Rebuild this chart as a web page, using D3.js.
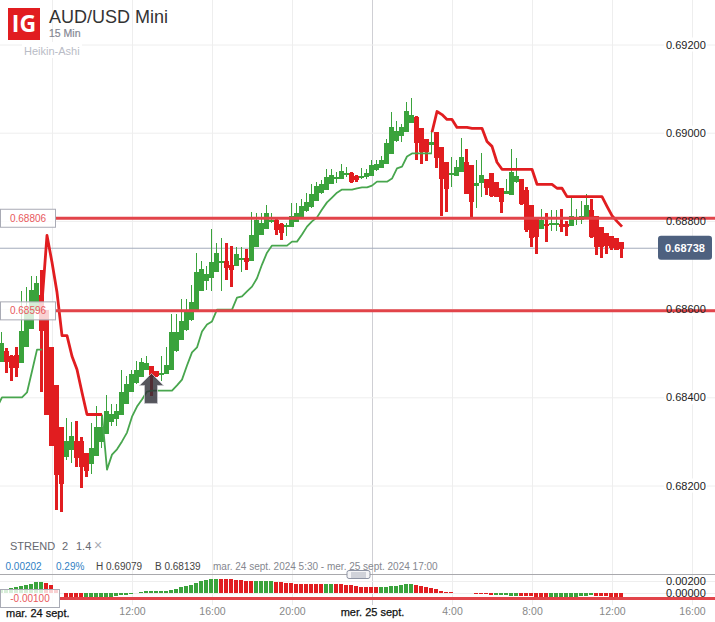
<!DOCTYPE html>
<html>
<head>
<meta charset="utf-8">
<script src="https://cdnjs.cloudflare.com/ajax/libs/d3/7.8.5/d3.min.js"></script>
<style type="text/css">
	html, body { margin: 0; padding: 0; background: #fff; }
	svg { display: block; font-family: "Liberation Sans", Arial, sans-serif; }
</style>
</head>
<body>
<svg id="chart" width="715" height="622"></svg>
<script type="text/javascript">
	// 15 min Heikin-Ashi bars, first bar is mar. 24 sept 5:30
	var firstBar = new Date(2024, 8, 24, 5, 30);

	var haOpen = [
		0.68481,0.68504,0.68493,0.68497,0.68479,0.68513,0.68556,0.68597,0.68631,0.68597,
		0.68515,0.68429,0.68332,0.68266,0.68282,0.68302,0.68300,0.68273,0.68248,0.68266,
		0.68298,0.68316,0.68343,0.68350,0.68359,0.68386,0.68411,0.68431,0.68445,0.68461,
		0.68470,0.68459,0.68452,0.68454,0.68463,0.68506,0.68531,0.68551,0.68574,0.68597,
		0.68640,0.68663,0.68670,0.68685,0.68706,0.68708,0.68701,0.68699,0.68710,0.68715,
		0.68710,0.68740,0.68769,0.68783,0.68799,0.68803,0.68794,0.68785,0.68787,0.68799,
		0.68808,0.68821,0.68830,0.68846,0.68862,0.68869,0.68885,0.68894,0.68896,0.68903,
		0.68908,0.68901,0.68896,0.68899,0.68901,0.68914,0.68921,0.68928,0.68951,0.68980,
		0.68992,0.69003,0.69023,0.69035,0.69010,0.68985,0.68971,0.69001,0.68967,0.68933,
		0.68903,0.68903,0.68910,0.68933,0.68926,0.68880,0.68885,0.68894,0.68908,0.68889,
		0.68874,0.68860,0.68860,0.68887,0.68894,0.68871,0.68837,0.68808,0.68781,0.68792,
		0.68792,0.68792,0.68794,0.68792,0.68790,0.68801,0.68803,0.68808,0.68824,0.68812,
		0.68787,0.68772,0.68765,0.68762,0.68753
	];
	var haClose = [
		0.68524,0.68479,0.68465,0.68468,0.68551,0.68595,0.68644,0.68660,0.68549,0.68359,
		0.68291,0.68225,0.68202,0.68302,0.68313,0.68264,0.68241,0.68232,0.68284,0.68332,
		0.68332,0.68368,0.68361,0.68368,0.68411,0.68431,0.68452,0.68461,0.68479,0.68477,
		0.68445,0.68447,0.68456,0.68474,0.68549,0.68549,0.68574,0.68595,0.68615,0.68683,
		0.68690,0.68679,0.68706,0.68728,0.68710,0.68692,0.68690,0.68726,0.68715,0.68706,
		0.68769,0.68801,0.68796,0.68819,0.68803,0.68781,0.68774,0.68790,0.68812,0.68819,
		0.68833,0.68842,0.68860,0.68880,0.68883,0.68899,0.68905,0.68899,0.68914,0.68908,
		0.68887,0.68892,0.68901,0.68908,0.68926,0.68928,0.68939,0.68976,0.69012,0.69003,
		0.69012,0.69050,0.69041,0.68976,0.68955,0.68955,0.68978,0.68942,0.68894,0.68871,
		0.68908,0.68923,0.68944,0.68860,0.68842,0.68887,0.68903,0.68874,0.68855,0.68855,
		0.68842,0.68867,0.68912,0.68901,0.68837,0.68781,0.68762,0.68762,0.68801,0.68787,
		0.68796,0.68796,0.68787,0.68785,0.68812,0.68806,0.68812,0.68835,0.68762,0.68742,
		0.68742,0.68742,0.68737,0.68735,0.68738
	];
	var haHigh = [
		0.68547,0.68511,0.68497,0.68515,0.68640,0.68649,0.68676,0.68674,0.68688,0.68597,
		0.68515,0.68429,0.68332,0.68352,0.68345,0.68347,0.68311,0.68273,0.68341,0.68381,
		0.68361,0.68406,0.68384,0.68384,0.68461,0.68449,0.68461,0.68483,0.68490,0.68493,
		0.68470,0.68459,0.68493,0.68513,0.68588,0.68588,0.68624,0.68622,0.68654,0.68728,
		0.68710,0.68697,0.68781,0.68751,0.68762,0.68751,0.68744,0.68740,0.68740,0.68737,
		0.68821,0.68817,0.68817,0.68837,0.68819,0.68806,0.68796,0.68796,0.68840,0.68840,
		0.68849,0.68864,0.68883,0.68889,0.68892,0.68917,0.68917,0.68910,0.68928,0.68923,
		0.68910,0.68903,0.68919,0.68917,0.68939,0.68939,0.68948,0.68985,0.69048,0.69026,
		0.69019,0.69069,0.69079,0.69037,0.69010,0.68985,0.69003,0.69001,0.68967,0.68933,
		0.68946,0.68939,0.68987,0.68964,0.68926,0.68939,0.68953,0.68896,0.68908,0.68889,
		0.68874,0.68894,0.68962,0.68942,0.68896,0.68876,0.68837,0.68808,0.68826,0.68817,
		0.68824,0.68824,0.68826,0.68799,0.68855,0.68826,0.68844,0.68860,0.68849,0.68812,
		0.68787,0.68772,0.68765,0.68762,0.68753
	];
	var haLow = [
		0.68481,0.68456,0.68438,0.68445,0.68479,0.68513,0.68556,0.68597,0.68411,0.68359,
		0.68291,0.68145,0.68139,0.68257,0.68252,0.68243,0.68195,0.68220,0.68225,0.68266,
		0.68286,0.68316,0.68334,0.68334,0.68359,0.68386,0.68411,0.68431,0.68445,0.68461,
		0.68402,0.68447,0.68436,0.68454,0.68463,0.68502,0.68531,0.68551,0.68574,0.68597,
		0.68640,0.68644,0.68640,0.68685,0.68640,0.68667,0.68651,0.68699,0.68685,0.68688,
		0.68710,0.68740,0.68769,0.68783,0.68796,0.68769,0.68756,0.68765,0.68787,0.68799,
		0.68808,0.68821,0.68830,0.68846,0.68860,0.68869,0.68885,0.68887,0.68894,0.68899,
		0.68885,0.68889,0.68894,0.68896,0.68901,0.68914,0.68921,0.68928,0.68951,0.68980,
		0.68978,0.69003,0.69023,0.68939,0.68930,0.68935,0.68951,0.68921,0.68812,0.68821,
		0.68878,0.68901,0.68910,0.68860,0.68808,0.68830,0.68855,0.68858,0.68855,0.68855,
		0.68817,0.68860,0.68860,0.68885,0.68837,0.68774,0.68740,0.68726,0.68781,0.68753,
		0.68776,0.68776,0.68774,0.68765,0.68790,0.68790,0.68792,0.68808,0.68762,0.68722,
		0.68717,0.68724,0.68735,0.68735,0.68717
	];

	// STREND, one list per stretch, each with the bar it starts on
	var strendGreenA = [0.68377,0.68400,0.68400,0.68400,0.68400,0.68400,0.68411,0.68459,0.68508,0.68508];
	var strendGreenAStart = -1;
	var strendRedA = [0.68615,0.68767,0.68706,0.68638,0.68540,0.68540,0.68493,0.68463,0.68411,0.68361,0.68361,0.68361,0.68361];
	var strendRedAStart = 8;
	var strendGreenB = [
		0.68361,0.68236,0.68270,0.68282,0.68300,0.68320,0.68356,0.68379,0.68395,0.68413,
		0.68415,0.68415,0.68415,0.68415,0.68415,0.68427,0.68440,0.68472,0.68502,0.68513,
		0.68549,0.68565,0.68572,0.68599,0.68599,0.68599,0.68599,0.68626,0.68629,0.68640,
		0.68651,0.68670,0.68701,0.68728,0.68744,0.68744,0.68744,0.68744,0.68753,0.68753,
		0.68769,0.68787,0.68799,0.68808,0.68826,0.68842,0.68853,0.68864,0.68871,0.68871,
		0.68871,0.68874,0.68876,0.68876,0.68880,0.68889,0.68889,0.68889,0.68896,0.68919,
		0.68923,0.68946,0.68953,0.68953,0.68953,0.68953,0.68953
	];
	var strendGreenBStart = 20;
	var strendRedB = [
		0.69001,0.69048,0.69041,0.69030,0.69030,0.69012,0.69012,0.69012,0.69010,0.69010,
		0.69010,0.68980,0.68969,0.68933,0.68917,0.68917,0.68917,0.68917,0.68917,0.68917,
		0.68917,0.68883,0.68883,0.68883,0.68883,0.68874,0.68874,0.68855,0.68855,0.68855,
		0.68855,0.68855,0.68855,0.68855,0.68855,0.68833,0.68812,0.68799,0.68787
	];
	var strendRedBStart = 86;

	var histValues = [
		0.00056,0.00072,0.00089,0.00100,0.00117,0.00128,0.00156,0.00183,0.00183,0.00167,
		0.00128,0.00056,0.00002,-0.00094,-0.00111,-0.00122,-0.00111,-0.00122,-0.00106,-0.00106,
		-0.00094,-0.00083,-0.00067,-0.00050,-0.00039,-0.00028,-0.00011,0.00002,0.00022,0.00028,
		0.00033,0.00033,0.00039,0.00039,0.00056,0.00072,0.00100,0.00117,0.00139,0.00172,
		0.00195,0.00211,0.00228,0.00239,0.00239,0.00239,0.00228,0.00217,0.00211,0.00200,
		0.00195,0.00200,0.00195,0.00200,0.00200,0.00183,0.00178,0.00172,0.00161,0.00156,
		0.00150,0.00156,0.00150,0.00150,0.00150,0.00145,0.00145,0.00145,0.00145,0.00139,
		0.00128,0.00110,0.00106,0.00100,0.00100,0.00095,0.00100,0.00106,0.00111,0.00122,
		0.00133,0.00145,0.00145,0.00128,0.00117,0.00100,0.00083,0.00061,0.00039,0.00017,
		0.00011,0.00006,0.00006,0.00006,-0.00001,-0.00011,-0.00017,-0.00022,-0.00028,-0.00039,
		-0.00039,-0.00039,-0.00044,-0.00044,-0.00050,-0.00050,-0.00056,-0.00067,-0.00094,-0.00106,
		-0.00106,-0.00094,-0.00089,-0.00083,-0.00078,-0.00067,-0.00056,-0.00044,-0.00039,-0.00044,
		-0.00056,-0.00056,-0.00067,-0.00078,-0.00083
	];
	// G or R for each histogram bar, in groups of ten
	var histSide = ("GGGGGGGGGR" + "RRRRRRRGGG" + "GGGGGGGGGG" + "GGGGGGGGGG" + "GGGGRRRRRR" +
		"RGGGGRRRRR" + "RRRRRGGRRR" + "RRRRRRGGGG" + "GGGRRRRRRR" + "RRGGRRRRRG" +
		"GGGGRRRRRR" + "GGGGGGGGGR" + "RRRRR").split("");

	var priceTicks = [0.692, 0.690, 0.688, 0.686, 0.684, 0.682];
	var histTicks = [0.002, 0];
	var priceLevels = [0.68806, 0.68596];
	var histLevel = -0.001;
	var lastPrice = 0.68738;

	var timeTicks = [
		new Date(2024, 8, 24, 8), new Date(2024, 8, 24, 12), new Date(2024, 8, 24, 16), new Date(2024, 8, 24, 20),
		new Date(2024, 8, 25, 0), new Date(2024, 8, 25, 4), new Date(2024, 8, 25, 8), new Date(2024, 8, 25, 12),
		new Date(2024, 8, 25, 16)
	];

	var red = "#e11d20", green = "#3aa33c", lineRed = "#e2444a";

	var svg = d3.select("#chart");

	function barTime(i) { return d3.timeMinute.offset(firstBar, 15 * i); }

	var x = d3.scaleTime()
		.domain([firstBar, new Date(2024, 8, 25, 16)])
		.range([2, 692]);
	var y = d3.scaleLinear().domain([0.692, 0.682]).range([44.5, 485.5]);
	var yHist = d3.scaleLinear().domain([0.002, 0]).range([581, 593]);

	// grid
	var gridX = svg.append("g")
		.call(d3.axisBottom(x).tickValues(timeTicks).tickSize(605).tickFormat(""));
	gridX.select(".domain").remove();
	gridX.selectAll("line").attr("stroke", function(d) {
		return d.getHours() == 0 ? "#cfcfd4" : "#eeeeee";
	});

	var gridY = svg.append("g")
		.call(d3.axisRight(y).tickValues(priceTicks).tickSize(715).tickFormat(""));
	gridY.select(".domain").remove();
	gridY.selectAll("line").attr("stroke", "#eeeeee");

	var gridHist = svg.append("g")
		.call(d3.axisRight(yHist).tickValues(histTicks).tickSize(715).tickFormat(""));
	gridHist.select(".domain").remove();
	gridHist.selectAll("line").attr("stroke", "#eeeeee");

	// white plates under the right hand labels, only the grid is cut by them
	svg.selectAll(".plate").data(priceTicks).enter().append("rect")
		.attr("class", "plate")
		.attr("x", 664).attr("width", 43)
		.attr("y", function(d) { return y(d) - 7; })
		.attr("height", 14)
		.attr("fill", "#fff");

	// last price line
	svg.append("line")
		.attr("x1", 0).attr("x2", 658)
		.attr("y1", y(lastPrice)).attr("y2", y(lastPrice))
		.attr("stroke", "#a3abbc").attr("stroke-width", 1);

	// candles, snapped to whole pixels like the original
	var bars = d3.range(haOpen.length).map(function(i) {
		return { i: i, o: haOpen[i], c: haClose[i], h: haHigh[i], l: haLow[i], up: haClose[i] >= haOpen[i] };
	});
	var candles = svg.append("g").attr("shape-rendering", "crispEdges");
	candles.selectAll(".wick").data(bars).enter().append("rect")
		.attr("class", "wick")
		.attr("x", function(d) { return x(barTime(d.i)) - (d.up ? 1 : 2); })
		.attr("width", function(d) { return d.up ? 1 : 3; })
		.attr("y", function(d) { return Math.round(y(d.h)); })
		.attr("height", function(d) { return Math.round(y(d.l)) - Math.round(y(d.h)); })
		.attr("fill", function(d) { return d.up ? green : red; });
	candles.selectAll(".body").data(bars).enter().append("rect")
		.attr("class", "body")
		.attr("x", function(d) { return x(barTime(d.i)) - 3; })
		.attr("width", 5)
		.attr("y", function(d) { return Math.round(y(Math.max(d.o, d.c))); })
		.attr("height", function(d) { return Math.max(2, Math.round(Math.abs(y(d.o) - y(d.c)))); })
		.attr("fill", function(d) { return d.up ? green : red; });

	// strend lines
	function strendLine(values, start, colour, width) {
		var line = d3.line()
			.x(function(d, k) { return x(barTime(start + k)); })
			.y(function(d) { return y(d); });
		svg.append("path")
			.attr("d", line(values))
			.attr("fill", "none")
			.attr("stroke", colour)
			.attr("stroke-width", width)
			.attr("stroke-linejoin", "round");
	}
	strendLine(strendGreenA, strendGreenAStart, "#48a64e", 1.8);
	strendLine(strendGreenB, strendGreenBStart, "#48a64e", 1.8);
	strendLine(strendRedA, strendRedAStart, red, 2.8);
	strendLine(strendRedB, strendRedBStart, red, 2.8);

	// arrow on bar 30
	var arrowX = x(barTime(30)) - 0.5, arrowY = y(haClose[30]);
	svg.append("path")
		.attr("d", d3.line()([[arrowX, arrowY - 4], [arrowX + 12, arrowY + 8], [arrowX + 6, arrowY + 8], [arrowX + 6, arrowY + 26],
			[arrowX - 7, arrowY + 26], [arrowX - 7, arrowY + 8], [arrowX - 12, arrowY + 8]]) + "Z")
		.attr("fill", "#2f3038")
		.attr("fill-opacity", 0.82)
		.attr("stroke", "#c9c9cf")
		.attr("stroke-width", 0.8);

	// histogram
	svg.append("g").attr("shape-rendering", "crispEdges").selectAll("rect").data(histValues).enter().append("rect")
		.attr("x", function(d, i) { return x(barTime(i)) - 3; })
		.attr("width", 4)
		.attr("y", function(d) { return Math.min(yHist(d), yHist(0)); })
		.attr("height", function(d) { return Math.abs(yHist(d) - yHist(0)); })
		.attr("fill", function(d, i) { return histSide[i] == "G" ? green : red; });

	// panel separator and its handle
	svg.append("line").attr("x1", 0).attr("x2", 715).attr("y1", 574.5).attr("y2", 574.5).attr("stroke", "#a9a9ad");
	svg.append("rect").attr("x", 347).attr("y", 570.5).attr("width", 23).attr("height", 8).attr("rx", 2)
		.attr("fill", "#f4f4f6").attr("stroke", "#8d93a3");
	svg.selectAll(".grip").data([573, 575, 577]).enter().append("line")
		.attr("class", "grip")
		.attr("x1", 351).attr("x2", 366)
		.attr("y1", function(d) { return d; }).attr("y2", function(d) { return d; })
		.attr("stroke", "#8d93a3").attr("stroke-width", 0.7);

	// drawn levels with their boxes
	function level(yPos, label, boxWidth) {
		svg.append("line")
			.attr("x1", boxWidth).attr("x2", 715)
			.attr("y1", yPos).attr("y2", yPos)
			.attr("stroke", lineRed).attr("stroke-width", 3);
		svg.append("rect")
			.attr("x", 0.5).attr("y", yPos - 9)
			.attr("width", boxWidth - 1).attr("height", 18)
			.attr("fill", "#fff").attr("fill-opacity", 0.8)
			.attr("stroke", "#a9abb5");
		svg.append("text")
			.attr("x", boxWidth / 2).attr("y", yPos + 3.5)
			.attr("text-anchor", "middle")
			.attr("font-size", 10)
			.attr("fill", "#e8595d")
			.text(label);
	}
	priceLevels.forEach(function(d) { level(y(d), d3.format(".5f")(d), 56); });
	level(yHist(histLevel) - 0.5, d3.format(".5f")(histLevel).replace("−", "-"), 60);

	// right hand labels
	var priceAxis = svg.append("g")
		.attr("transform", "translate(666,0)")
		.call(d3.axisRight(y).tickValues(priceTicks).tickSize(0).tickPadding(0).tickFormat(d3.format(".5f")));
	priceAxis.select(".domain").remove();
	var histAxis = svg.append("g")
		.attr("transform", "translate(666,0)")
		.call(d3.axisRight(yHist).tickValues(histTicks).tickSize(0).tickPadding(0).tickFormat(d3.format(".5f")));
	histAxis.select(".domain").remove();
	svg.selectAll(".tick text")
		.attr("font-family", "\"Liberation Sans\", Arial, sans-serif")
		.attr("font-size", 11)
		.attr("fill", "#222");

	svg.append("rect")
		.attr("x", 658).attr("y", y(lastPrice) - 12.5)
		.attr("width", 54).attr("height", 24).attr("rx", 3)
		.attr("fill", "#4e617f");
	svg.append("text")
		.attr("x", 685).attr("y", y(lastPrice) + 4)
		.attr("text-anchor", "middle")
		.attr("font-size", 11).attr("font-weight", "bold")
		.attr("fill", "#fff")
		.text(d3.format(".5f")(lastPrice));

	// time axis
	var timeAxis = svg.append("g")
		.attr("transform", "translate(0,604)")
		.call(d3.axisBottom(x).tickValues(timeTicks).tickSize(0).tickPadding(4).tickFormat(function(d) {
			if (d.getHours() == 8 && d.getDate() == 24) return "";
			if (d.getHours() == 0) return "mer. 25 sept.";
			return d.getHours() + ":00";
		}));
	timeAxis.select(".domain").remove();
	timeAxis.selectAll("text")
		.attr("font-family", "\"Liberation Sans\", Arial, sans-serif")
		.attr("font-size", function(d) { return d.getHours() == 0 ? 11 : 10.5; })
		.attr("fill", function(d) { return d.getHours() == 0 ? "#111" : "#888"; })
		.attr("stroke", function(d) { return d.getHours() == 0 ? "#111" : "none"; })
		.attr("stroke-width", 0.25);
	svg.append("text").attr("x", 6).attr("y", 617)
		.attr("font-size", 11).attr("fill", "#111")
		.attr("stroke", "#111").attr("stroke-width", 0.25)
		.text("mar. 24 sept.");

	// header
	svg.append("rect").attr("x", 8).attr("y", 8).attr("width", 32).attr("height", 32).attr("fill", "#e11d20");
	svg.append("text").attr("x", 24).attr("y", 32)
		.attr("text-anchor", "middle")
		.attr("font-size", 23).attr("font-weight", "bold").attr("fill", "#fff")
		.attr("font-family", "\"Open Sans\", sans-serif")
		.text("IG");
	svg.append("text").attr("x", 49).attr("y", 23)
		.attr("font-size", 18).attr("fill", "#333")
		.text("AUD/USD Mini");
	svg.append("text").attr("x", 49).attr("y", 37)
		.attr("font-size", 10.5).attr("fill", "#858894")
		.attr("stroke", "#858894").attr("stroke-width", 0.2)
		.text("15 Min");
	svg.append("rect").attr("x", 22).attr("y", 42).attr("width", 60).attr("height", 16).attr("fill", "#fff");
	svg.append("text").attr("x", 24).attr("y", 55)
		.attr("font-size", 11).attr("fill", "#b9bcc6")
		.text("Heikin-Ashi");

	// info rows
	function note(xPos, yPos, label, size, colour) {
		svg.append("text").attr("x", xPos).attr("y", yPos)
			.attr("font-size", size).attr("fill", colour)
			.text(label);
	}
	note(10, 550, "STREND", 11, "#666870");
	note(62, 550, "2", 11, "#666870");
	note(76, 550, "1.4", 11, "#666870");
	note(94, 550, "×", 14, "#a9abb5");
	note(5.5, 570, "0.00202", 10, "#2f7fc4");
	note(56, 570, "0.29%", 10, "#2f7fc4");
	note(96, 570, "H 0.69079", 10, "#444");
	note(155, 570, "B 0.68139", 10, "#444");
	note(213, 570, "mar. 24 sept. 2024 5:30 - mer. 25 sept. 2024 17:00", 10, "#85878f");
</script>
</body>
</html>
